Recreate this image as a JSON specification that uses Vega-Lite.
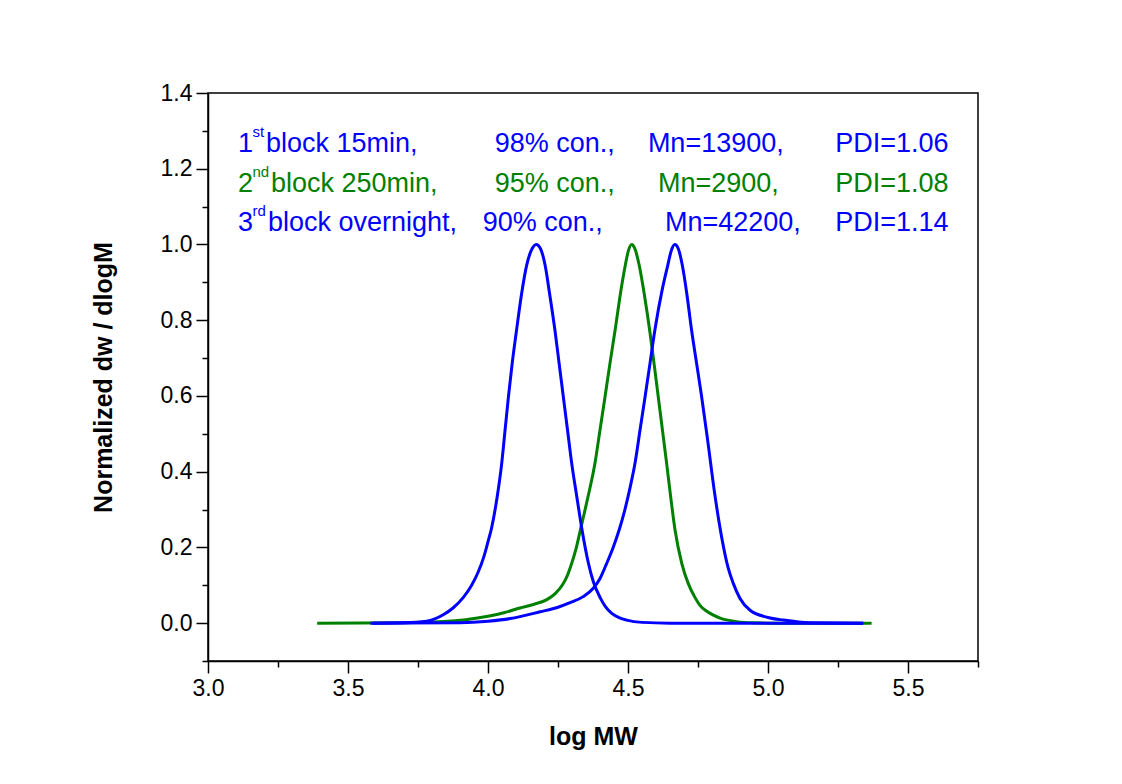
{
  "$schema": "https://vega.github.io/schema/vega-lite/v6.json",
  "autosize": "none",
  "width": 770,
  "height": 568,
  "padding": {"left": 208, "top": 93, "right": 144, "bottom": 123},
  "background": "white",
  "config": {
    "font": "Liberation Sans",
    "view": {"stroke": "black", "strokeWidth": 1.5},
    "axis": {"grid": false, "domainColor": "black", "domainWidth": 1.5, "tickColor": "black", "tickWidth": 1.5, "labelColor": "black", "titleColor": "black", "labelFont": "Liberation Sans", "titleFont": "Liberation Sans", "labelFontSize": 23, "titleFontSize": 25, "titleFontWeight": "bold"}
  },
  "datasets": {
    "green": [
      {"x": 3.39, "y": 0}, {"x": 3.7, "y": 0.001}, {"x": 3.84, "y": 0.004}, {"x": 3.92, "y": 0.009}, {"x": 4.0, "y": 0.018},
      {"x": 4.06, "y": 0.028}, {"x": 4.114, "y": 0.040}, {"x": 4.165, "y": 0.05}, {"x": 4.21, "y": 0.062}, {"x": 4.24, "y": 0.078},
      {"x": 4.265, "y": 0.10}, {"x": 4.283, "y": 0.125}, {"x": 4.299, "y": 0.158}, {"x": 4.315, "y": 0.198}, {"x": 4.329, "y": 0.243}, {"x": 4.356, "y": 0.33}, {"x": 4.382, "y": 0.422},
      {"x": 4.40, "y": 0.51}, {"x": 4.418, "y": 0.598}, {"x": 4.436, "y": 0.688}, {"x": 4.454, "y": 0.774}, {"x": 4.475, "y": 0.88}, {"x": 4.489, "y": 0.94}, {"x": 4.502, "y": 0.985},
      {"x": 4.513, "y": 1.0}, {"x": 4.525, "y": 0.988}, {"x": 4.54, "y": 0.945}, {"x": 4.56, "y": 0.86}, {"x": 4.579, "y": 0.765},
      {"x": 4.594, "y": 0.68}, {"x": 4.608, "y": 0.598}, {"x": 4.623, "y": 0.51}, {"x": 4.638, "y": 0.422}, {"x": 4.653, "y": 0.33}, {"x": 4.668, "y": 0.246}, {"x": 4.692, "y": 0.158}, {"x": 4.715, "y": 0.105},
      {"x": 4.739, "y": 0.068}, {"x": 4.757, "y": 0.047}, {"x": 4.78, "y": 0.032}, {"x": 4.805, "y": 0.021}, {"x": 4.829, "y": 0.013},
      {"x": 4.888, "y": 0.004}, {"x": 4.95, "y": 0.001}, {"x": 5.05, "y": 0}, {"x": 5.37, "y": 0}
    ],
    "blue": [
      {"s": "1st", "x": 3.59, "y": 0}, {"s": "1st", "x": 3.7, "y": 0.001}, {"s": "1st", "x": 3.781, "y": 0.005}, {"s": "1st", "x": 3.81, "y": 0.011},
      {"s": "1st", "x": 3.84, "y": 0.022}, {"s": "1st", "x": 3.875, "y": 0.040}, {"s": "1st", "x": 3.912, "y": 0.068}, {"s": "1st", "x": 3.94, "y": 0.098},
      {"s": "1st", "x": 3.965, "y": 0.135}, {"s": "1st", "x": 3.985, "y": 0.175}, {"s": "1st", "x": 4.0, "y": 0.215}, {"s": "1st", "x": 4.013, "y": 0.252}, {"s": "1st", "x": 4.032, "y": 0.33}, {"s": "1st", "x": 4.049, "y": 0.422},
      {"s": "1st", "x": 4.061, "y": 0.51}, {"s": "1st", "x": 4.073, "y": 0.598}, {"s": "1st", "x": 4.087, "y": 0.69}, {"s": "1st", "x": 4.102, "y": 0.774}, {"s": "1st", "x": 4.12, "y": 0.87}, {"s": "1st", "x": 4.138, "y": 0.945},
      {"s": "1st", "x": 4.155, "y": 0.985}, {"s": "1st", "x": 4.172, "y": 1.0}, {"s": "1st", "x": 4.188, "y": 0.988}, {"s": "1st", "x": 4.204, "y": 0.945},
      {"s": "1st", "x": 4.22, "y": 0.87}, {"s": "1st", "x": 4.239, "y": 0.774}, {"s": "1st", "x": 4.254, "y": 0.686}, {"s": "1st", "x": 4.269, "y": 0.598}, {"s": "1st", "x": 4.284, "y": 0.51}, {"s": "1st", "x": 4.299, "y": 0.422},
      {"s": "1st", "x": 4.318, "y": 0.33}, {"s": "1st", "x": 4.335, "y": 0.25}, {"s": "1st", "x": 4.347, "y": 0.2}, {"s": "1st", "x": 4.358, "y": 0.16}, {"s": "1st", "x": 4.376, "y": 0.11},
      {"s": "1st", "x": 4.40, "y": 0.068}, {"s": "1st", "x": 4.42, "y": 0.043}, {"s": "1st", "x": 4.442, "y": 0.026}, {"s": "1st", "x": 4.47, "y": 0.014},
      {"s": "1st", "x": 4.495, "y": 0.008}, {"s": "1st", "x": 4.55, "y": 0.002}, {"s": "1st", "x": 4.65, "y": 0}, {"s": "1st", "x": 5.34, "y": 0},
      {"s": "3rd", "x": 3.58, "y": 0}, {"s": "3rd", "x": 3.9, "y": 0.001}, {"s": "3rd", "x": 4.0, "y": 0.005}, {"s": "3rd", "x": 4.079, "y": 0.012},
      {"s": "3rd", "x": 4.186, "y": 0.030}, {"s": "3rd", "x": 4.25, "y": 0.042}, {"s": "3rd", "x": 4.293, "y": 0.054}, {"s": "3rd", "x": 4.34, "y": 0.07},
      {"s": "3rd", "x": 4.376, "y": 0.092}, {"s": "3rd", "x": 4.40, "y": 0.118}, {"s": "3rd", "x": 4.424, "y": 0.158}, {"s": "3rd", "x": 4.448, "y": 0.202},
      {"s": "3rd", "x": 4.47, "y": 0.25}, {"s": "3rd", "x": 4.489, "y": 0.300}, {"s": "3rd", "x": 4.508, "y": 0.36}, {"s": "3rd", "x": 4.525, "y": 0.422},
      {"s": "3rd", "x": 4.543, "y": 0.51}, {"s": "3rd", "x": 4.561, "y": 0.598}, {"s": "3rd", "x": 4.579, "y": 0.688}, {"s": "3rd", "x": 4.596, "y": 0.774}, {"s": "3rd", "x": 4.622, "y": 0.88}, {"s": "3rd", "x": 4.642, "y": 0.945},
      {"s": "3rd", "x": 4.655, "y": 0.985}, {"s": "3rd", "x": 4.667, "y": 1.0}, {"s": "3rd", "x": 4.68, "y": 0.988}, {"s": "3rd", "x": 4.694, "y": 0.945},
      {"s": "3rd", "x": 4.71, "y": 0.87}, {"s": "3rd", "x": 4.727, "y": 0.774}, {"s": "3rd", "x": 4.745, "y": 0.686}, {"s": "3rd", "x": 4.763, "y": 0.598}, {"s": "3rd", "x": 4.785, "y": 0.48},
      {"s": "3rd", "x": 4.81, "y": 0.34}, {"s": "3rd", "x": 4.835, "y": 0.225}, {"s": "3rd", "x": 4.858, "y": 0.145}, {"s": "3rd", "x": 4.876, "y": 0.105},
      {"s": "3rd", "x": 4.90, "y": 0.065}, {"s": "3rd", "x": 4.936, "y": 0.034}, {"s": "3rd", "x": 5.0, "y": 0.015}, {"s": "3rd", "x": 5.055, "y": 0.008},
      {"s": "3rd", "x": 5.15, "y": 0.001}, {"s": "3rd", "x": 5.34, "y": 0}
    ],
    "labels": [
      {"b": "1st", "x": 3.107, "y": 1.244, "t": "1"},
      {"b": "1st", "x": 3.207, "y": 1.244, "t": "block 15min,"},
      {"b": "1st", "x": 4.024, "y": 1.244, "t": "98% con.,"},
      {"b": "1st", "x": 4.571, "y": 1.244, "t": "Mn=13900,"},
      {"b": "1st", "x": 5.24, "y": 1.244, "t": "PDI=1.06"},
      {"b": "2nd", "x": 3.107, "y": 1.138, "t": "2"},
      {"b": "2nd", "x": 3.225, "y": 1.138, "t": "block 250min,"},
      {"b": "2nd", "x": 4.024, "y": 1.138, "t": "95% con.,"},
      {"b": "2nd", "x": 4.607, "y": 1.138, "t": "Mn=2900,"},
      {"b": "2nd", "x": 5.24, "y": 1.138, "t": "PDI=1.08"},
      {"b": "3rd", "x": 3.107, "y": 1.035, "t": "3"},
      {"b": "3rd", "x": 3.214, "y": 1.035, "t": "block overnight,"},
      {"b": "3rd", "x": 3.981, "y": 1.035, "t": "90% con.,"},
      {"b": "3rd", "x": 4.632, "y": 1.035, "t": "Mn=42200,"},
      {"b": "3rd", "x": 5.24, "y": 1.035, "t": "PDI=1.14"}
    ],
    "sups": [
      {"b": "1st", "x": 3.159, "y": 1.244, "t": "st"},
      {"b": "2nd", "x": 3.159, "y": 1.138, "t": "nd"},
      {"b": "3rd", "x": 3.159, "y": 1.035, "t": "rd"}
    ]
  },
  "encoding": {
    "x": {"field": "x", "type": "quantitative", "scale": {"domain": [3, 5.75], "nice": false, "zero": false},
      "axis": {"title": "log MW", "values": [3, 3.25, 3.5, 3.75, 4, 4.25, 4.5, 4.75, 5, 5.25, 5.5, 5.75],
        "labelExpr": "abs(round(datum.value*4)) % 2 == 0 && datum.value < 5.7 ? format(datum.value, '.1f') : ''",
        "tickSize": {"condition": {"test": "abs(round(datum.value*4)) % 2 == 0", "value": 12}, "value": 6},
        "labelPadding": 4, "titlePadding": 24, "labelFlush": false}},
    "y": {"field": "y", "type": "quantitative", "scale": {"domain": [-0.1, 1.4], "nice": false, "zero": false},
      "axis": {"title": "Normalized dw / dlogM", "values": [-0.1, 0, 0.1, 0.2, 0.3, 0.4, 0.5, 0.6, 0.7, 0.8, 0.9, 1.0, 1.1, 1.2, 1.3, 1.4],
        "labelExpr": "datum.value > -0.05 && abs(round(datum.value*10)) % 2 == 0 ? format(datum.value, '.1f') : ''",
        "tickSize": {"condition": {"test": "abs(round(datum.value*10)) % 2 == 0", "value": 12}, "value": 6},
        "labelPadding": 4, "titlePadding": 44, "labelFlush": false}}
  },
  "layer": [
    {"data": {"name": "green"}, "mark": {"type": "line", "color": "#008000", "strokeWidth": 3, "interpolate": "monotone"}},
    {"data": {"name": "blue"}, "mark": {"type": "line", "color": "#0000ff", "strokeWidth": 3, "interpolate": "monotone"},
      "encoding": {"detail": {"field": "s"}}},
    {"data": {"name": "labels"}, "mark": {"type": "text", "align": "left", "baseline": "alphabetic", "fontSize": 27, "font": "Liberation Sans"},
      "encoding": {"text": {"field": "t"}, "color": {"field": "b", "type": "nominal", "scale": {"domain": ["1st", "2nd", "3rd"], "range": ["#0000ff", "#008000", "#0000ff"]}, "legend": null}}},
    {"data": {"name": "sups"}, "mark": {"type": "text", "align": "left", "baseline": "alphabetic", "fontSize": 15, "dy": -15, "font": "Liberation Sans"},
      "encoding": {"text": {"field": "t"}, "color": {"field": "b", "type": "nominal", "legend": null}}}
  ]
}
